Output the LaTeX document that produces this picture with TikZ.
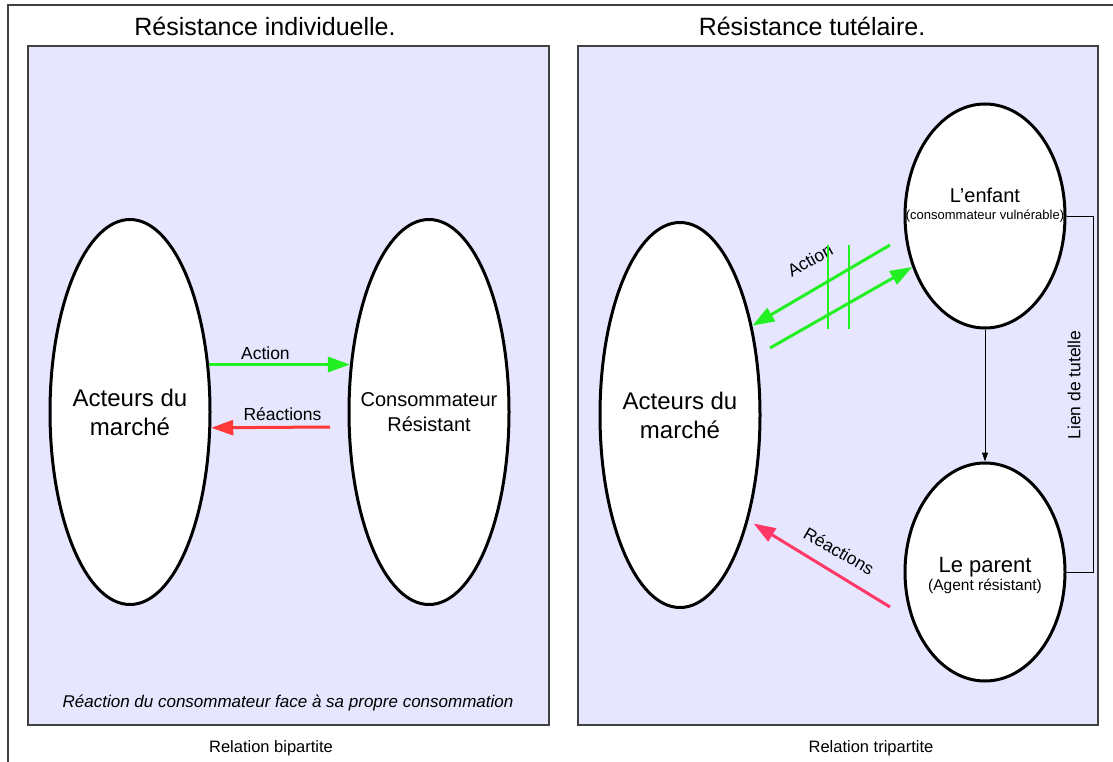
\documentclass[tikz,border=0pt]{standalone}
\usepackage{fontspec}
\setmainfont{Liberation Sans}
\usepackage{tikz}
\usetikzlibrary{shapes.geometric,arrows.meta}
\definecolor{panelfill}{HTML}{E6E6FF}
\definecolor{paneldraw}{HTML}{404040}
\definecolor{actiongreen}{HTML}{22F022}
\definecolor{reacred}{HTML}{FF3838}
\definecolor{reacpink}{HTML}{FF3868}
\tikzstyle{cadre} = [draw=paneldraw, line width=1.5pt]
\tikzstyle{panel} = [rectangle, draw=paneldraw, line width=1.5pt, fill=panelfill, inner sep=0pt]
\tikzstyle{acteur} = [ellipse, draw=black, line width=3pt, fill=white, minimum width=160pt, minimum height=385pt, inner sep=0pt]
\tikzstyle{acteurtxt} = [align=center, inner sep=0pt, font=\fontsize{24}{29}\selectfont]
\tikzstyle{titre} = [font=\fontsize{25}{30}\selectfont]
\tikzstyle{petit} = [font=\fontsize{17.5}{20}\selectfont, inner sep=1pt]
\tikzstyle{action} = [line width=3pt, draw=actiongreen, -{Triangle[length=22pt,width=15pt]}]
\tikzstyle{reaction} = [line width=3pt, draw=reacred, -{Triangle[length=22pt,width=15pt]}]
\tikzstyle{coupure} = [line width=2pt, draw=actiongreen]
\tikzstyle{link} = [line width=1pt, draw=black]

\begin{document}
\begin{tikzpicture}[x=1pt, y=-1pt]
\useasboundingbox (0,0) rectangle (1113,762);
\draw [cadre] (8,775) -- (8,5) -- (1125,5);
%
\node (titreA) [titre] at (265,26) {Résistance individuelle.};
\node (titreB) [titre] at (812,26) {Résistance tutélaire.};
\node (panelA) [panel, minimum width=521pt, minimum height=679pt] at (288.5,385.5) {};
\node (panelB) [panel, minimum width=520pt, minimum height=679pt] at (838,385.5) {};
%
\node (acteursA) [acteur] at (130,412) {};
	\node (acteursAtxt) [acteurtxt] at (acteursA) {Acteurs du\\marché};
\node (consoA) [acteur] at (429,412) {};
	\node (consoAtxt) [acteurtxt, font=\fontsize{20}{25}\selectfont] at (consoA) {Consommateur\\Résistant};
	\coordinate (reacA) at (330,427);
\node (legendeA) [petit, font=\fontsize{17}{20}\selectfont\itshape] at (288,703) {Réaction du consommateur face à sa propre consommation};
\node (relA) [petit, font=\fontsize{16.5}{19}\selectfont] at (271,748) {Relation bipartite};
%
\node (acteursB) [acteur] at (680,415) {};
	\node (acteursBtxt) [acteurtxt] at (acteursB) {Acteurs du\\marché};
\node (enfant) [acteur, minimum height=224pt] at (985,216) {};
	\node (enfanttxt) [align=center, inner sep=0pt] at (985,205) {{\fontsize{20}{23}\selectfont L'enfant}\\[5pt]{\fontsize{13}{15}\selectfont (consommateur vulnérable)}};
\node (parent) [acteur, minimum height=218pt] at (985,572) {};
	\node (parenttxt) [align=center, inner sep=0pt] at (985,576) {{\fontsize{22}{25}\selectfont Le parent}\\[1pt]{\fontsize{15.5}{18}\selectfont (Agent résistant)}};
	\coordinate (actdebut) at (890,245);
	\coordinate (actretour) at (770,348);
	\coordinate (reacdebut) at (890,607);
\node (actionB) [petit, rotate=29] at (810,260) {Action};
\node (reactionB) [petit, rotate=-30] at (839,551) {Réactions};
\node (lien) [petit, rotate=90] at (1074,385) {Lien de tutelle};
\node (relB) [petit, font=\fontsize{16.5}{19}\selectfont] at (871,748) {Relation tripartite};
%
\draw [action] (acteursA.31) -- (consoA.149) node [petit, pos=0.4, above=2pt] {Action};
\draw [reaction] (reacA) -- (acteursA.-11) node [petit, pos=0.4, above=4pt] {Réactions};
%
\draw [action] (actdebut) -- (acteursB.51);
\draw [action] (actretour) -- (enfant.215);
	\draw [coupure] (828,245) -- (828,329);
	\draw [coupure] (849,245) -- (849,329);
\draw [reaction, draw=reacpink, shorten >=6pt] (reacdebut) -- (acteursB.-57);
\draw [link, -{Triangle[length=9pt,width=6pt]}] (enfant) -- (parent);
\draw [link] (enfant.east) -- ++(27,0) |- (parent.east);
\end{tikzpicture}
\end{document}
